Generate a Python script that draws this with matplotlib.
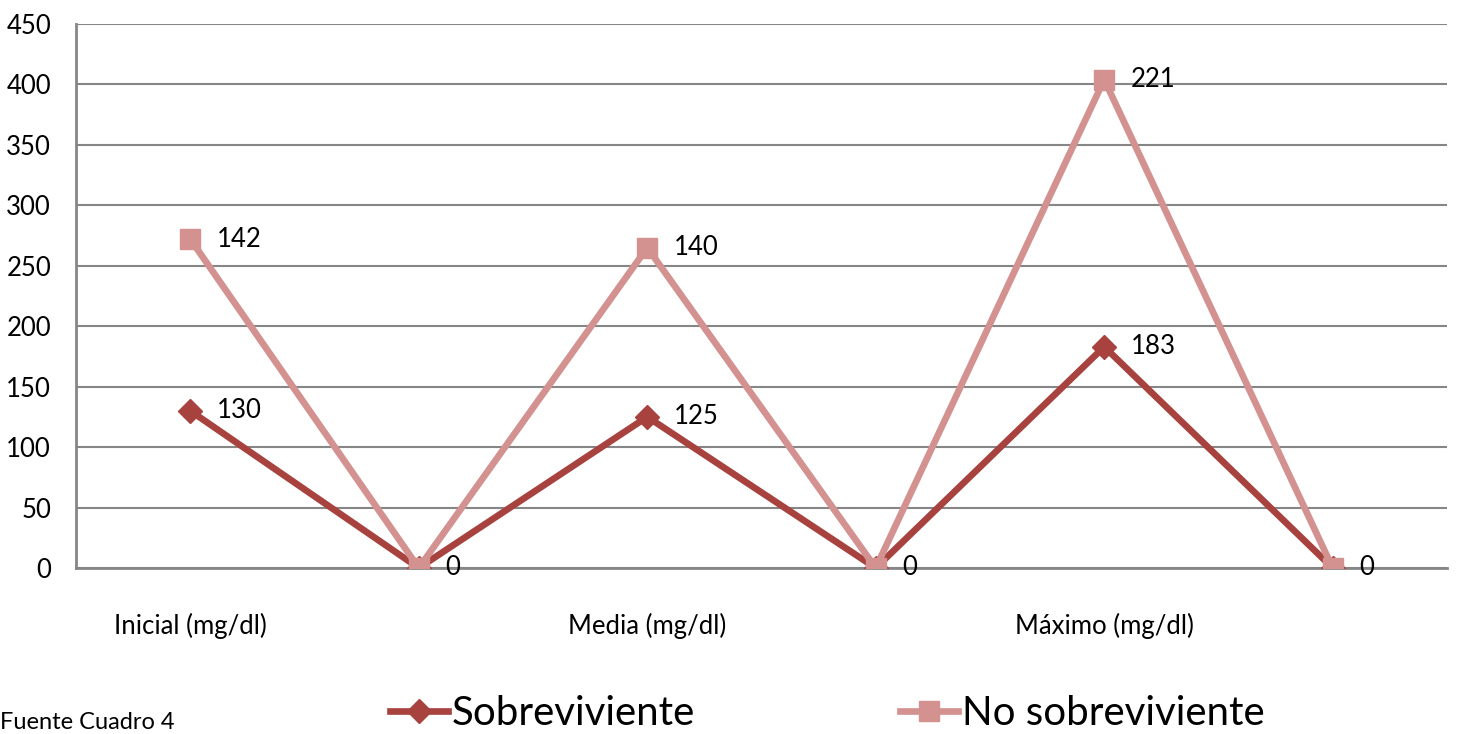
import numpy as np
import matplotlib.pyplot as plt

plt.rcParams['font.family'] = ['Lato', 'DejaVu Sans']

categorias = ['Inicial (mg/dl)', '', 'Media (mg/dl)', '', 'Máximo (mg/dl)', '']
sobreviviente = [130, 0, 125, 0, 183, 0]
no_sobreviviente = [142, 0, 140, 0, 221, 0]

col_sob = '#A8423F'
col_no = '#D39190'
gris = '#868686'

x = np.arange(len(categorias))
# grafico de lineas apiladas: la segunda serie se suma a la primera
apilado = np.array(sobreviviente) + np.array(no_sobreviviente)

fig = plt.figure(figsize=(14.57, 7.34), dpi=100)
ax = fig.add_axes([0.0522, 0.2262, 0.9409, 0.7411])

ax.set_ylim(0, 450)
ax.set_xlim(-0.5, len(categorias) - 0.5)
ax.set_yticks(range(0, 451, 50))
ax.yaxis.grid(True, color=gris, linewidth=1.5)
ax.set_axisbelow(True)

l1, = ax.plot(x, sobreviviente, color=col_sob, linewidth=4.8, marker='D',
              markersize=12, label='Sobreviviente', zorder=3)
l2, = ax.plot(x, apilado, color=col_no, linewidth=4.8, marker='s',
              markersize=15, label='No sobreviviente', zorder=4)

for i, v in enumerate(sobreviviente):
    if v:
        ax.annotate(str(v), (x[i], v), xytext=(19, 0), textcoords='offset points',
                    ha='left', va='center', fontsize=18.5)
for i, v in enumerate(no_sobreviviente):
    ax.annotate(str(v), (x[i], apilado[i]), xytext=(19, 0), textcoords='offset points',
                ha='left', va='center', fontsize=18.5)

ax.set_xticks(x)
ax.set_xticklabels(categorias, fontsize=18.5)
ax.tick_params(axis='x', length=0, pad=32)
ax.tick_params(axis='y', length=0, labelsize=18.5, pad=18)

for s in ['top', 'right']:
    ax.spines[s].set_visible(False)
for s in ['left', 'bottom']:
    ax.spines[s].set_color(gris)
    ax.spines[s].set_linewidth(2)

# una leyenda por serie para fijar cada entrada en su sitio
for h, xpos in [(l1, 390 / 1457), (l2, 900 / 1457)]:
    fig.legend(handles=[h], loc='center left', bbox_to_anchor=(xpos, 0.028),
               frameon=False, fontsize=29, handlelength=1.45,
               handletextpad=0.08, borderaxespad=0, borderpad=0)

fig.text(0.0, 0.002, 'Fuente Cuadro 4', fontsize=17, ha='left', va='bottom')

fig.savefig('out.png', dpi=100)
